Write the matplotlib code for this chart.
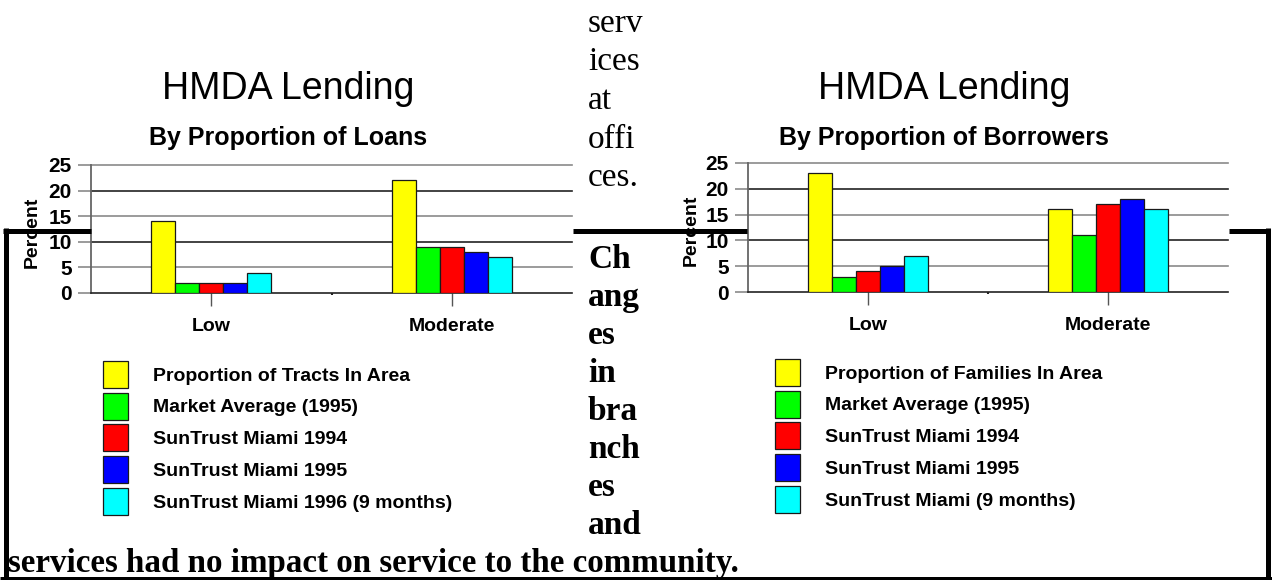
import matplotlib.pyplot as plt

W, H = 1272, 580

categories = ["Low", "Moderate"]
colors = ["#ffff00", "#00ff00", "#ff0000", "#0000ff", "#00ffff"]

loan_labels = ["Proportion of Tracts In Area", "Market Average (1995)",
               "SunTrust Miami 1994", "SunTrust Miami 1995",
               "SunTrust Miami 1996 (9 months)"]
loans_low = [14, 2, 2, 2, 4]
loans_moderate = [22, 9, 9, 8, 7]

borrower_labels = ["Proportion of Families In Area", "Market Average (1995)",
                   "SunTrust Miami 1994", "SunTrust Miami 1995",
                   "SunTrust Miami (9 months)"]
borrowers_low = [23, 3, 4, 5, 7]
borrowers_moderate = [16, 11, 17, 18, 16]

yticks = [0, 5, 10, 15, 20, 25]

text_above = ["serv", "ices", "at", "offi", "ces."]
text_beside = ["Ch", "ang", "es", "in", "bra", "nch", "es", "and"]
text_bottom = "services had no impact on service to the community."

SANS = "Liberation Sans"
SERIF = "Liberation Serif"


def fig_rect(x0, y0, x1, y1):
    # pixel box (top-left origin) -> figure fraction rect
    return [x0 / W, 1 - y1 / H, (x1 - x0) / W, (y1 - y0) / H]


def draw_chart(fig, rect, low, moderate, labels, legend_xy, ylabel_xy):
    ax = fig.add_axes(rect)
    width = 0.1
    bars = []
    for i in range(len(labels)):
        xs = [c + (i - 2) * width for c in range(len(categories))]
        b = ax.bar(xs, [low[i], moderate[i]], width, color=colors[i],
                   edgecolor="#1a1a1a", linewidth=0.9, zorder=3)
        bars.append(b)

    ax.set_xlim(-0.5, 1.5)
    ax.set_ylim(0, 25)
    for v in yticks[1:]:
        ax.axhline(v, color="#222222" if v % 10 == 0 else "#8a8a8a",
                   lw=1.2, zorder=1, clip_on=False)

    for side in ["top", "right"]:
        ax.spines[side].set_visible(False)
    ax.spines["left"].set_color("#666666")
    ax.spines["left"].set_linewidth(1.3)
    ax.spines["bottom"].set_color("#222222")
    ax.spines["bottom"].set_linewidth(1.2)

    ax.set_yticks(yticks)
    ax.tick_params(axis="y", length=9.4, width=1.2, pad=4.3, color="#8a8a8a")
    for t in ax.get_yticklabels():
        t.set_fontfamily(SANS)
        t.set_fontweight("bold")
        t.set_fontsize(15)

    ax.set_xticks(range(len(categories)))
    ax.set_xticklabels(categories, fontfamily=SANS, fontweight="bold", fontsize=14)
    ax.set_xticks([0.5], minor=True)
    ax.tick_params(axis="x", which="major", length=9.4, width=1.0, pad=8.6, color="#555555")
    ax.tick_params(axis="x", which="minor", length=1.5, width=1.5, color="#222222")

    ax.set_ylabel("Percent", fontfamily=SANS, fontweight="bold", fontsize=14)
    ax.yaxis.set_label_coords(*ylabel_xy)

    ax.legend(bars, labels, loc="upper left",
              bbox_to_anchor=(legend_xy[0] / W, 1 - legend_xy[1] / H),
              bbox_transform=fig.transFigure, frameon=False,
              borderpad=0, borderaxespad=0, handlelength=1.28,
              handleheight=1.75, labelspacing=0.25, handletextpad=1.28,
              prop={"family": SANS, "weight": "bold", "size": 14})
    return ax


fig = plt.figure(figsize=(W / 100, H / 100), dpi=100)

draw_chart(fig, fig_rect(91, 165, 572, 293), loans_low, loans_moderate,
           loan_labels, (103, 361), (-0.104, 0.477))
draw_chart(fig, fig_rect(748, 163, 1228, 292), borrowers_low, borrowers_moderate,
           borrower_labels, (775, 359), (-0.100, 0.48))

# page overlay: titles, body text and the box rule
ax0 = fig.add_axes([0, 0, 1, 1])
ax0.set_xlim(0, W)
ax0.set_ylim(H, 0)
ax0.axis("off")
ax0.set_zorder(5)

for cx, sub in [(288, "By Proportion of Loans"), (944, "By Proportion of Borrowers")]:
    ax0.text(cx, 99, "HMDA Lending", ha="center", va="baseline",
             fontfamily=SANS, fontsize=27)
    ax0.text(cx, 145, sub, ha="center", va="baseline",
             fontfamily=SANS, fontweight="bold", fontsize=18)

for i, s in enumerate(text_above):
    ax0.text(588, 32 + 38.5 * i, s, va="baseline", fontfamily=SERIF, fontsize=24)
for i, s in enumerate(text_beside):
    ax0.text(588, 268 + 38 * i, s, va="baseline", fontfamily=SERIF,
             fontweight="bold", fontsize=24)
ax0.text(8, 572, text_bottom, va="baseline", fontfamily=SERIF,
         fontweight="bold", fontsize=23.8)

rule = dict(color="black", lw=3.6, solid_capstyle="butt")
for x0, x1 in [(3, 91), (573, 747), (1229, 1270)]:
    ax0.plot([x0, x1], [230.5, 230.5], **rule)
ax0.plot([5.5, 5.5], [228, 580], **rule)
ax0.plot([1267.5, 1267.5], [228, 580], **rule)
ax0.plot([0, W], [578.5, 578.5], **rule)

fig.savefig("out.png", dpi=100)
